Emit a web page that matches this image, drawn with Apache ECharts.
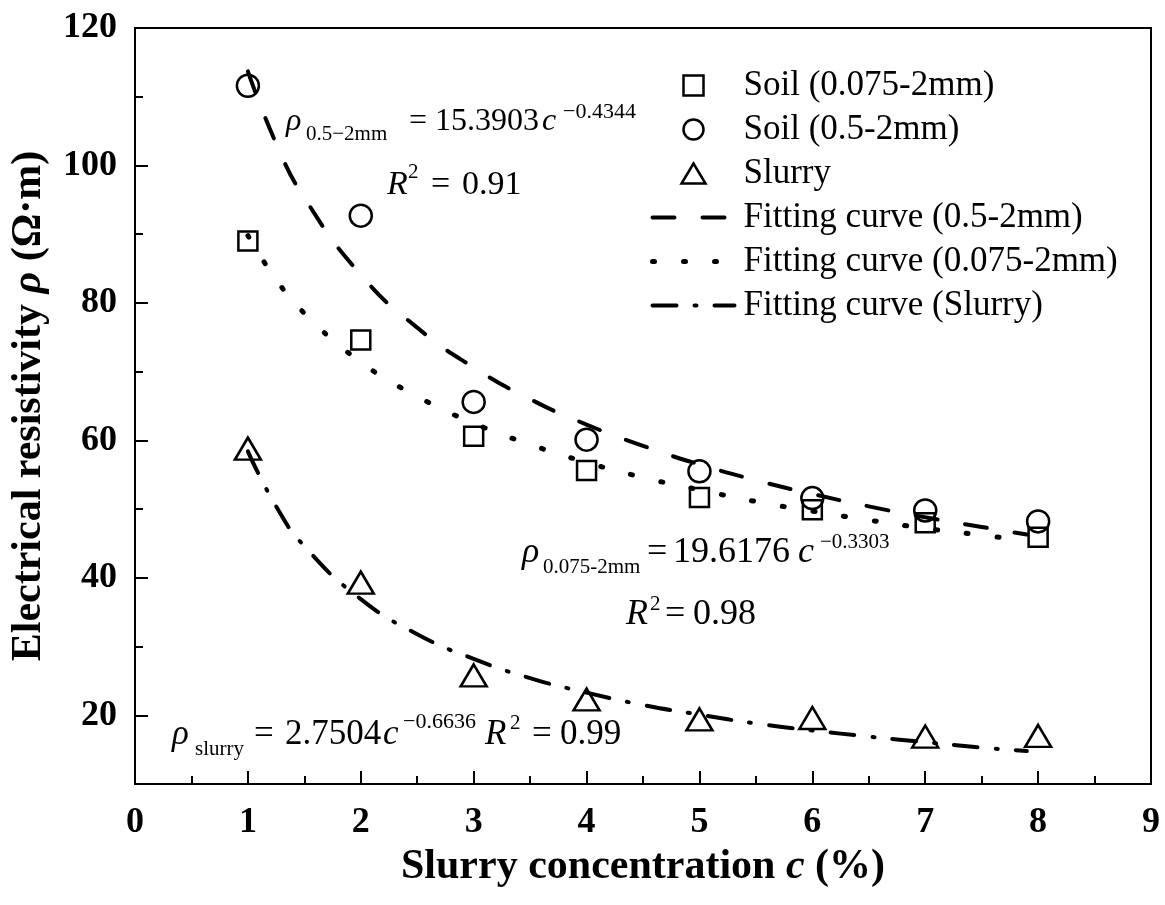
<!DOCTYPE html>
<html>
<head>
<meta charset="utf-8">
<script src="https://cdn.jsdelivr.net/npm/echarts@6/dist/echarts.min.js"></script>
<style>
    html, body { margin: 0; padding: 0; background: #fff; }
    #chart { width: 1165px; height: 905px; }
</style>
</head>
<body>
<div id="chart"></div>
<script>
// measured points, slurry concentration c (%)
var conc = [1, 2, 3, 4, 5, 6, 7, 8];
var soilFine = [89.0, 74.6, 60.6, 55.6, 51.7, 49.9, 48.0, 45.9];     // Soil (0.075-2mm)
var soilCoarse = [111.6, 92.7, 65.6, 60.1, 55.5, 51.6, 49.8, 48.2];  // Soil (0.5-2mm)
var slurry = [58.8, 39.3, 25.8, 22.3, 19.4, 19.6, 16.9, 17.0];       // Slurry

// points
var fitX = [1, 1.25, 1.5, 2, 2.5, 3, 3.5, 4, 4.5, 5, 5.5, 6, 6.5, 7, 7.5, 7.9];
var fitCoarse = [113.7, 103.2, 95.3, 84.1, 76.4, 70.6, 66.0, 62.3, 59.2, 56.5, 54.2, 52.2, 50.4, 48.8, 47.4, 46.3];
var fitFine = [89.8, 83.4, 78.5, 71.4, 66.4, 62.5, 59.4, 56.8, 54.6, 52.8, 51.1, 49.7, 48.4, 47.2, 46.2, 45.4];
var fitSlurry = [58.4, 50.4, 44.6, 36.9, 31.8, 28.2, 25.4, 23.3, 21.5, 20.1, 18.8, 17.8, 16.9, 16.1, 15.3, 14.8];

// axis ticks
var yTicks = [20, 40, 60, 80, 100, 120];
var yMinorTicks = [30, 50, 70, 90, 110];

var serif = '"Liberation Serif", "Times New Roman", serif';

function zip(xs, ys) {
    var out = [];
    for (var i = 0; i < xs.length; i++) {
        out.push([xs[i], ys[i]]);
    }
    return out;
}

// one piece of an equation, placed by its baseline
function piece(t, x, base, size, italic) {
    return {
        type: 'text', x: x, y: base - 0.3375 * size, silent: true,
        style: {
            text: t, fontFamily: serif, fontSize: size,
            fontStyle: italic ? 'italic' : 'normal',
            fill: '#000', align: 'left', verticalAlign: 'middle'
        }
    };
}

var dashCoarse = [22, 28];
var dashFine = [2, 29];
var dashSlurry = [24, 18, 2, 18];

var hollow = {color: 'rgba(0,0,0,0)', borderColor: '#000', borderWidth: 2.5, opacity: 1};

var chart = echarts.init(document.getElementById('chart'));

chart.setOption({
    animation: false,
    grid: {
        left: 135, right: 14, top: 28, bottom: 121,
        show: true, borderColor: '#000', borderWidth: 2,
        outerBoundsMode: 'none'
    },
    legend: {
        orient: 'vertical',
        left: 645,
        top: 63,
        padding: 5,
        itemWidth: 82,
        itemHeight: 20,
        itemGap: 9,
        selectedMode: false,
        textStyle: {fontFamily: serif, fontSize: 35, color: '#000', padding: [0, 0, 0, 4]},
        data: [
            {name: 'Soil (0.075-2mm)', icon: 'path://M0,0L10,0L10,10L0,10Z', itemStyle: hollow},
            {name: 'Soil (0.5-2mm)', icon: 'circle', itemStyle: hollow},
            {name: 'Slurry', icon: 'path://M6,0L12,10L0,10Z', itemStyle: hollow},
            {name: 'Fitting curve (0.5-2mm)', itemStyle: {opacity: 0},
                lineStyle: {width: 4, type: dashCoarse, cap: 'round', color: '#000'}},
            {name: 'Fitting curve (0.075-2mm)', itemStyle: {opacity: 0},
                lineStyle: {width: 5, type: dashFine, cap: 'round', color: '#000'}},
            {name: 'Fitting curve (Slurry)', itemStyle: {opacity: 0},
                lineStyle: {width: 4, type: dashSlurry, cap: 'round', color: '#000'}}
        ]
    },
    xAxis: {
        type: 'value',
        min: 0,
        max: 9,
        interval: 1,
        name: 'Slurry concentration {i|c} (%)',
        nameLocation: 'middle',
        nameGap: 61,
        nameTextStyle: {
            fontFamily: serif, fontWeight: 'bold', fontSize: 42, color: '#000',
            rich: {i: {fontFamily: serif, fontWeight: 'bold', fontStyle: 'italic', fontSize: 42, color: '#000'}}
        },
        axisLine: {lineStyle: {color: '#000', width: 2}},
        axisTick: {inside: true, length: 13, lineStyle: {color: '#000', width: 2}},
        minorTick: {show: true, splitNumber: 2, length: 8, lineStyle: {color: '#000', width: 2}},
        axisLabel: {fontFamily: serif, fontWeight: 'bold', fontSize: 36, color: '#000', margin: 21},
        splitLine: {show: false},
        minorSplitLine: {show: false}
    },
    yAxis: [
        {
            type: 'value',
            min: 10,
            max: 120,
            name: 'Electrical resistivity {i|ρ} (Ω·m)',
            nameLocation: 'middle',
            nameGap: 85,
            nameTextStyle: {
                fontFamily: serif, fontWeight: 'bold', fontSize: 42, color: '#000',
                rich: {i: {fontFamily: serif, fontWeight: 'bold', fontStyle: 'italic', fontSize: 42, color: '#000'}}
            },
            axisLine: {show: true, lineStyle: {color: '#000', width: 2}},
            axisTick: {show: true, inside: true, length: 13, customValues: yTicks, lineStyle: {color: '#000', width: 2}},
            axisLabel: {fontFamily: serif, fontWeight: 'bold', fontSize: 36, color: '#000', margin: 18, customValues: yTicks},
            splitLine: {show: false}
        },
        {
            type: 'value',
            min: 10,
            max: 120,
            position: 'left',
            axisLine: {show: false},
            axisTick: {show: true, inside: true, length: 8, customValues: yMinorTicks, lineStyle: {color: '#000', width: 2}},
            axisLabel: {show: false},
            splitLine: {show: false}
        }
    ],
    series: [
        {
            name: 'Soil (0.075-2mm)', type: 'scatter', symbol: 'rect', symbolSize: 19,
            itemStyle: hollow, data: zip(conc, soilFine), z: 2
        },
        {
            name: 'Soil (0.5-2mm)', type: 'scatter', symbol: 'circle', symbolSize: 22,
            itemStyle: hollow, data: zip(conc, soilCoarse), z: 2
        },
        {
            name: 'Slurry', type: 'scatter', symbol: 'triangle', symbolSize: [26, 22],
            itemStyle: hollow, data: zip(conc, slurry), z: 2
        },
        {
            name: 'Fitting curve (0.5-2mm)', type: 'line', smooth: true, symbol: 'none',
            itemStyle: {color: '#000'},
            lineStyle: {color: '#000', width: 4, type: dashCoarse, cap: 'round'},
            data: zip(fitX, fitCoarse), z: 3
        },
        {
            name: 'Fitting curve (0.075-2mm)', type: 'line', smooth: true, symbol: 'none',
            itemStyle: {color: '#000'},
            lineStyle: {color: '#000', width: 5, type: dashFine, cap: 'round'},
            data: zip(fitX, fitFine), z: 3
        },
        {
            name: 'Fitting curve (Slurry)', type: 'line', smooth: true, symbol: 'none',
            itemStyle: {color: '#000'},
            lineStyle: {color: '#000', width: 4, type: dashSlurry, cap: 'round'},
            data: zip(fitX, fitSlurry), z: 3
        }
    ],
    graphic: [
        // 0.5-2mm fit
        piece('ρ', 286, 132, 32, true),
        piece('0.5−2mm', 306, 142, 21),
        piece('=', 409, 132, 32),
        piece('15.3903', 435, 132, 32),
        piece('c', 542, 132, 32, true),
        piece('−0.4344', 563, 120, 22),
        piece('R', 387, 197, 34, true),
        piece('2', 408, 180, 21),
        piece('=', 431, 197, 34),
        piece('0.91', 462, 197, 34),
        // 0.075-2mm fit
        piece('ρ', 522, 565, 36, true),
        piece('0.075-2mm', 543, 575, 21),
        piece('=', 647, 565, 36),
        piece('19.6176', 673, 565, 36),
        piece('c', 798, 565, 36, true),
        piece('−0.3303', 820, 550, 21),
        piece('R', 626, 627, 36, true),
        piece('2', 650, 612, 21),
        piece('=', 665, 627, 36),
        piece('0.98', 693, 627, 36),
        // slurry fit
        piece('ρ', 172, 747, 35, true),
        piece('slurry', 195, 757, 21),
        piece('=', 254, 747, 35),
        piece('2.7504', 285, 747, 35),
        piece('c', 383, 747, 35, true),
        piece('−0.6636', 403, 730, 22),
        piece('R', 485, 747, 35, true),
        piece('2', 510, 731, 21),
        piece('=', 532, 747, 35),
        piece('0.99', 560, 747, 35)
    ]
});
</script>
</body>
</html>
